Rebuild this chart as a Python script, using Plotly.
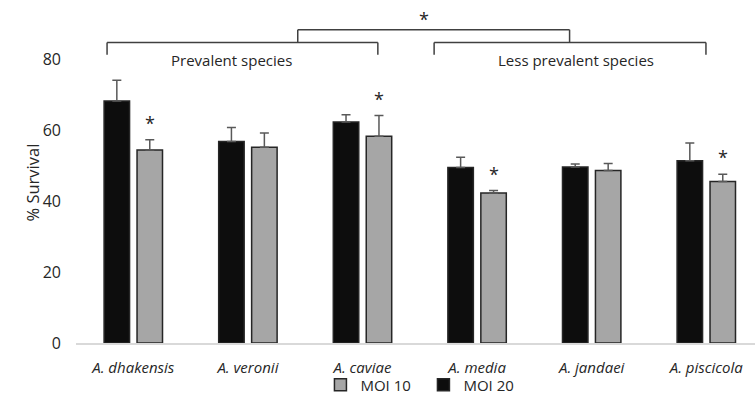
import plotly.graph_objects as go

species = ["A. dhakensis", "A. veronii", "A. caviae", "A. media", "A. jandaei", "A. piscicola"]
moi20 = [68.4, 56.9, 62.4, 49.6, 49.7, 51.5]
moi20_err = [5.8, 4.0, 2.1, 2.9, 0.9, 5.0]
moi10 = [54.5, 55.3, 58.4, 42.4, 48.7, 45.6]
moi10_err = [2.9, 4.0, 5.9, 0.7, 2.0, 2.1]
moi10_sig = [True, False, True, True, False, True]
y_ticks = [0, 20, 40, 60, 80]

FONT = "Open Sans"
fig = go.Figure()
fig.add_trace(go.Bar(
    name="MOI 20", x=species, y=moi20, legendrank=2,
    marker=dict(color="#0d0d0d", line=dict(color="#262626", width=1.5)),
    error_y=dict(type="data", symmetric=False, array=moi20_err, arrayminus=[0]*6,
                 color="#595959", thickness=1.5, width=4.5),
))
fig.add_trace(go.Bar(
    name="MOI 10", x=species, y=moi10, legendrank=1,
    marker=dict(color="#a6a6a6", line=dict(color="#262626", width=1.5)),
    error_y=dict(type="data", symmetric=False, array=moi10_err, arrayminus=[0]*6,
                 color="#595959", thickness=1.5, width=4.5),
))

# significance stars above MOI 10 bars
for s, v, e, sig in zip(species, moi10, moi10_err, moi10_sig):
    if sig:
        fig.add_annotation(x=s, y=v + e + 0.8, xref="x", yref="y", text="*", showarrow=False,
                           xshift=16.5, yanchor="bottom", font=dict(size=18, color="#262626", family=FONT))

line = dict(color="#404040", width=1.5)
# brackets
def bracket(x0, x1, xr):
    fig.add_shape(type="line", x0=x0, x1=x0, y0=81.4, y1=84.9, xref="x", yref="y", line=line)
    fig.add_shape(type="line", x0=x0, x1=x1, y0=84.9, y1=84.9, xref="x", yref="y", line=line)
    fig.add_shape(type="line", x0=x1, x1=x1, y0=81.4, y1=84.9, xref="x", yref="y", line=line)
    fig.add_shape(type="line", x0=xr, x1=xr, y0=84.9, y1=88.5, xref="x", yref="y", line=line)

bracket(-0.229, 2.134, 1.435)
bracket(2.625, 4.997, 3.807)
fig.add_shape(type="line", x0=1.435, x1=3.807, y0=88.5, y1=88.5, xref="x", yref="y", line=line)
fig.add_annotation(x=2.535, y=91.5, xref="x", yref="y", text="*", showarrow=False, yanchor="middle",
                   font=dict(size=18, color="#262626", family=FONT))
fig.add_annotation(x=0.86, y=80.0, xref="x", yref="y", text="Prevalent species", showarrow=False,
                   font=dict(size=15, color="#262626", family=FONT))
fig.add_annotation(x=3.86, y=80.0, xref="x", yref="y", text="Less prevalent species", showarrow=False,
                   font=dict(size=15, color="#262626", family=FONT))
fig.add_annotation(x=(18 - 76) / 679, xref="paper", y=(343 - 183) / 343, yref="paper",
                   text="% Survival", textangle=-90, showarrow=False,
                   font=dict(size=16.5, color="#262626", family=FONT))

fig.update_layout(
    width=755, height=394,
    margin=dict(l=76, r=0, t=0, b=51),
    paper_bgcolor="white", plot_bgcolor="white",
    barmode="group", bargap=0.425, bargroupgap=0.227,
    font=dict(family=FONT, size=14, color="#262626"),
    showlegend=True,
    legend=dict(orientation="h", x=0.360, xanchor="left", xref="paper",
                y=9 / 394, yanchor="middle", yref="container",
                bgcolor="rgba(0,0,0,0)", entrywidth=58, entrywidthmode="pixels",
                font=dict(size=15, color="#262626", family=FONT), itemwidth=30),
    xaxis=dict(range=[-0.5, 5.425], showline=True, linecolor="#d9d9d9", linewidth=1.5,
               ticks="", showgrid=False, tickfont=dict(size=15, family=FONT, style="italic"),
               ticklabelstandoff=10, automargin=False),
    yaxis=dict(range=[0, 96.9], tickvals=y_ticks, showgrid=False, zeroline=False, showline=False,
               ticklabelstandoff=14, tickfont=dict(size=16, family=FONT), automargin=False),
)
fig.write_html("out.html", config={"displayModeBar": False},
               post_script="document.body.style.margin='0';")
